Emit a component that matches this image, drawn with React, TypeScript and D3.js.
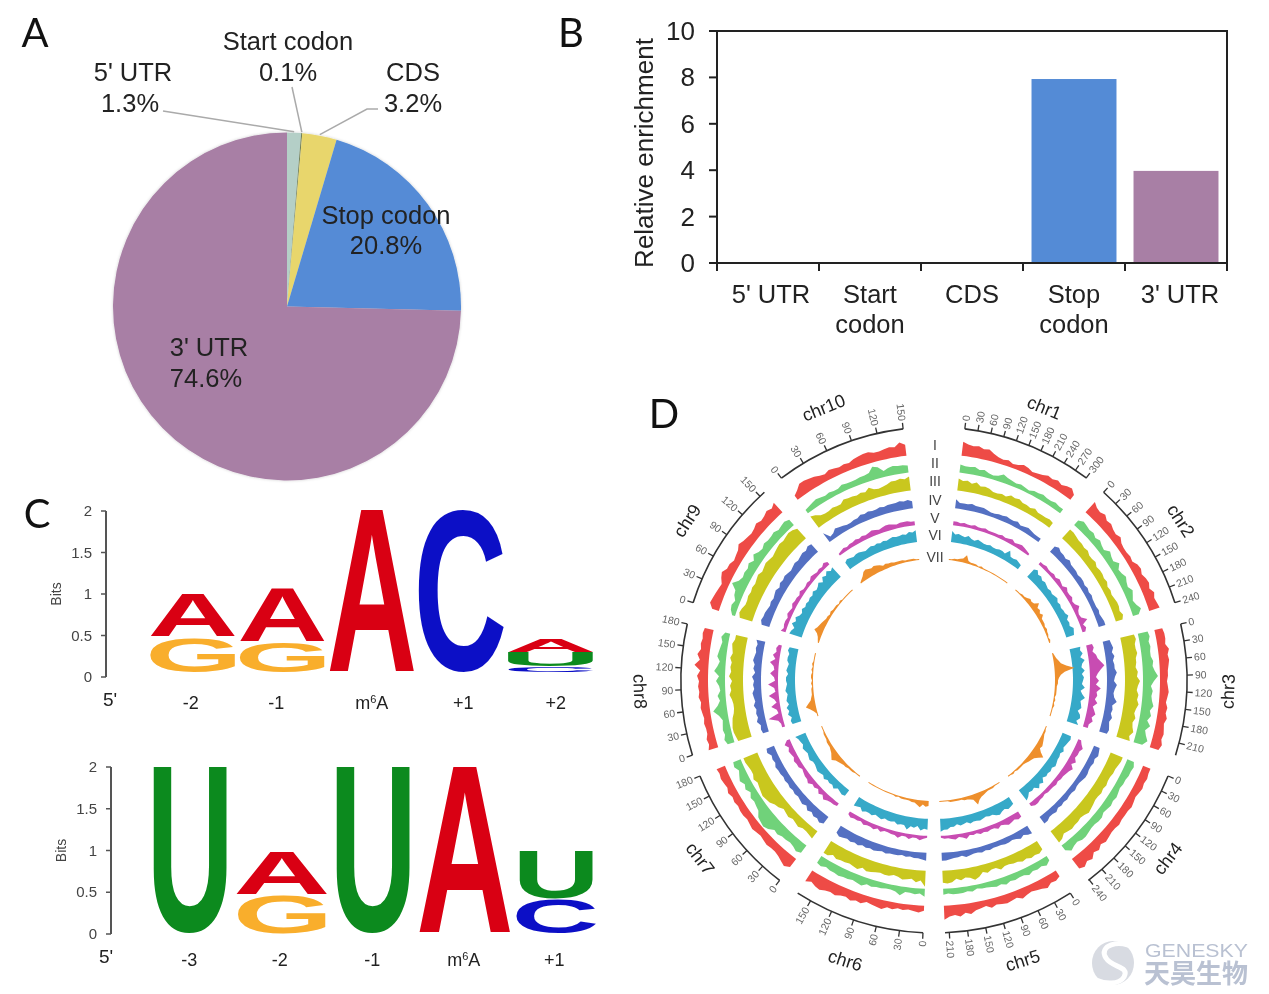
import * as d3 from 'd3'

const SANS = '"Liberation Sans", Arial, sans-serif'

// Panel A
const pieLabels = ["5' UTR", 'Start codon', 'CDS', 'Stop codon', "3' UTR"]
const pieShares = [1.3, 0.1, 3.2, 20.8, 74.6]
const pieColors = ['#b4cfc7', '#6f7f55', '#e8d66c', '#548bd6', '#a87fa5']

// Panel B
const barLabels = [["5' UTR"], ['Start', 'codon'], ['CDS'], ['Stop', 'codon'], ["3' UTR"]]
const barValues = [0.01, 0.01, 0.04, 7.93, 3.97]
const barColors = ['#b4cfc7', '#6f7f55', '#e8d66c', '#548bd6', '#a87fa5']
const barTicks = [0, 2, 4, 6, 8, 10]

// Panel C, letters listed bottom to top as [base, bits]
type Stack = [string, number][]
const logoTicks = [0, 0.5, 1, 1.5, 2]
const logoAPositions = ['-2', '-1', 'm6A', '+1', '+2']
const logoAStacks: Stack[] = [
  [['G', 0.43], ['A', 0.53]],
  [['G', 0.37], ['A', 0.65]],
  [['A', 1.97]],
  [['C', 1.97]],
  [['C', 0.07], ['U', 0.18], ['A', 0.17]],
]
const logoBPositions = ['-3', '-2', '-1', 'm6A', '+1']
const logoBStacks: Stack[] = [
  [['U', 2.0]],
  [['G', 0.47], ['A', 0.52]],
  [['U', 2.0]],
  [['A', 2.0]],
  [['C', 0.42], ['U', 0.59]],
]
const baseColors: Record<string, string> = { A: '#d90013', C: '#0c0fc6', G: '#f9ae2c', U: '#0c8a1e' }

// Panel D
const chrNames = ['chr1', 'chr2', 'chr3', 'chr4', 'chr5', 'chr6', 'chr7', 'chr8', 'chr9', 'chr10']
const chrLengths = [301, 240, 232, 242, 217, 169, 180, 180, 157, 150]
const trackNames = ['I', 'II', 'III', 'IV', 'V', 'VI', 'VII']
const trackColors = ['#ee4b46', '#70d27a', '#c9c71e', '#5470c2', '#c84cb2', '#36a9c8', '#ee8f2c']

const chr1Tracks = [
  [14, 12, 11, 12, 10, 11, 8, 6, 5, 6, 4, 5, 7, 6, 4, 5, 6, 8, 7, 9, 7, 9, 10, 6],
  [8, 7, 7, 8, 6, 7, 5, 4, 5, 8, 6, 5, 4, 5, 4, 3, 5, 5, 6, 5, 5, 6, 5, 5],
  [12, 10, 11, 9, 11, 8, 9, 8, 6, 6, 7, 6, 9, 8, 9, 7, 7, 6, 8, 6, 6, 6, 7, 6],
  [9, 6, 6, 6, 7, 6, 6, 6, 5, 4, 4, 5, 5, 6, 5, 5, 6, 4, 5, 6, 5, 4, 4, 4],
  [4, 4, 3, 4, 3, 3, 4, 3, 3, 4, 3, 3, 3, 3, 4, 3, 4, 5, 3, 4, 5, 4, 3, 2],
  [11, 8, 9, 8, 7, 9, 7, 6, 8, 7, 6, 6, 7, 6, 6, 7, 7, 6, 11, 6, 6, 7, 6, 5],
  [1, 1, 2, 2, 3, 4, 8, 3, 2, 2, 2, 1, 2, 1, 1, 1, 1, 1, 1, 1, 1, 1, 1, 1],
]
const chr2Tracks = [
  [14, 11, 10, 12, 9, 10, 8, 7, 9, 6, 5, 5, 6, 5, 8, 9, 7, 9, 10, 8, 11, 9, 10, 11],
  [6, 9, 8, 7, 8, 6, 8, 6, 5, 9, 7, 6, 10, 6, 7, 9, 7, 6, 9, 7, 5, 7, 10, 6],
  [12, 12, 11, 10, 10, 9, 10, 8, 8, 9, 7, 8, 8, 7, 8, 6, 7, 6, 7, 8, 8, 7, 9, 7],
  [7, 9, 7, 7, 6, 8, 6, 6, 6, 5, 6, 6, 5, 6, 5, 6, 5, 5, 5, 6, 5, 6, 7, 7],
  [3, 3, 4, 3, 3, 4, 3, 5, 4, 3, 6, 4, 4, 5, 3, 4, 7, 4, 3, 4, 9, 3, 5, 3],
  [10, 12, 9, 10, 8, 9, 8, 7, 8, 7, 8, 9, 7, 8, 7, 8, 8, 10, 7, 8, 7, 10, 9, 8],
  [1, 1, 1, 2, 2, 3, 5, 4, 5, 9, 5, 6, 4, 6, 3, 3, 3, 2, 3, 2, 2, 1, 2, 1],
]
const chr3Tracks = [
  [8, 9, 9, 8, 11, 9, 10, 9, 8, 8, 7, 8, 9, 8, 7, 9, 8, 10, 8, 9, 10, 9, 11, 9],
  [10, 11, 9, 10, 9, 9, 11, 10, 12, 15, 11, 8, 10, 9, 10, 12, 9, 11, 8, 12, 8, 10, 13, 9],
  [14, 15, 13, 13, 14, 12, 12, 11, 13, 12, 15, 13, 12, 14, 13, 15, 13, 12, 14, 12, 13, 15, 12, 14],
  [7, 8, 9, 7, 9, 7, 8, 8, 10, 8, 7, 10, 8, 7, 8, 11, 7, 8, 7, 9, 7, 8, 9, 8],
  [6, 7, 5, 8, 9, 12, 15, 11, 8, 6, 9, 6, 11, 7, 8, 6, 9, 5, 7, 9, 6, 8, 5, 5],
  [11, 10, 12, 9, 13, 10, 9, 12, 9, 11, 10, 9, 12, 8, 10, 13, 9, 10, 11, 8, 11, 12, 9, 12],
  [1, 2, 3, 5, 7, 12, 20, 10, 6, 4, 3, 3, 2, 2, 2, 2, 1, 2, 1, 2, 1, 1, 1, 1],
]
const chr4Tracks = [
  [8, 8, 9, 8, 9, 8, 7, 8, 9, 8, 8, 8, 9, 8, 8, 9, 10, 8, 11, 9, 13, 11, 14, 12],
  [7, 9, 8, 8, 7, 7, 6, 7, 8, 7, 8, 7, 6, 8, 8, 7, 7, 8, 9, 9, 7, 8, 10, 6],
  [13, 13, 12, 11, 11, 10, 10, 11, 10, 11, 10, 10, 11, 12, 13, 11, 10, 11, 11, 12, 11, 10, 13, 14],
  [6, 7, 8, 6, 7, 6, 6, 7, 7, 6, 5, 5, 6, 5, 5, 6, 5, 6, 5, 7, 6, 6, 8, 8],
  [3, 5, 8, 6, 6, 5, 8, 5, 9, 7, 6, 5, 5, 4, 5, 4, 4, 4, 3, 4, 4, 5, 5, 3],
  [9, 10, 9, 8, 7, 9, 7, 8, 8, 9, 10, 8, 9, 8, 9, 7, 11, 9, 12, 8, 9, 8, 11, 13],
  [1, 1, 2, 2, 3, 4, 5, 6, 5, 8, 13, 9, 6, 5, 4, 3, 2, 2, 2, 2, 1, 2, 1, 1],
]
const chr5Tracks = [
  [7, 9, 8, 11, 9, 8, 7, 8, 10, 7, 8, 9, 8, 7, 9, 6, 7, 8, 11, 9, 12, 10, 11, 14],
  [5, 8, 6, 7, 6, 8, 6, 6, 7, 6, 8, 6, 7, 6, 5, 5, 4, 6, 5, 6, 6, 6, 5, 6],
  [10, 12, 11, 12, 10, 11, 9, 9, 8, 8, 10, 7, 7, 9, 7, 11, 13, 10, 9, 11, 9, 12, 13, 12],
  [9, 8, 6, 8, 6, 5, 6, 6, 5, 5, 5, 6, 5, 6, 5, 5, 6, 7, 5, 6, 6, 7, 8, 8],
  [6, 7, 5, 6, 7, 5, 4, 6, 4, 4, 5, 4, 5, 3, 4, 3, 6, 4, 3, 5, 4, 3, 3, 2],
  [8, 9, 10, 8, 9, 11, 10, 8, 8, 7, 8, 9, 8, 8, 9, 7, 8, 9, 7, 9, 9, 11, 11, 13],
  [1, 1, 1, 2, 2, 2, 3, 4, 5, 7, 11, 5, 4, 3, 3, 2, 2, 2, 2, 2, 1, 1, 1, 1],
]
const chr6Tracks = [
  [5, 7, 6, 5, 6, 5, 7, 6, 9, 8, 7, 6, 9, 8, 10, 8, 9, 11, 10, 11, 13, 12, 10, 13],
  [8, 5, 6, 5, 5, 9, 6, 5, 5, 6, 6, 7, 6, 9, 8, 7, 8, 8, 9, 8, 8, 7, 9, 8],
  [16, 10, 12, 9, 10, 11, 9, 8, 10, 10, 9, 10, 11, 12, 10, 13, 12, 11, 12, 12, 13, 11, 14, 14],
  [8, 7, 6, 6, 5, 6, 5, 6, 6, 6, 7, 6, 7, 8, 7, 8, 7, 9, 8, 9, 8, 9, 10, 8],
  [2, 3, 5, 3, 3, 5, 3, 3, 6, 4, 4, 3, 3, 5, 3, 5, 4, 4, 5, 3, 4, 4, 5, 3],
  [11, 10, 12, 8, 10, 9, 13, 9, 9, 10, 8, 9, 9, 8, 10, 9, 8, 10, 9, 9, 11, 8, 9, 10],
  [5, 6, 4, 7, 5, 3, 3, 2, 2, 2, 2, 1, 2, 1, 1, 1, 1, 1, 1, 1, 1, 1, 1, 1],
]
const chr7Tracks = [
  [10, 13, 11, 9, 8, 8, 9, 8, 7, 8, 9, 8, 7, 8, 8, 7, 8, 7, 9, 7, 8, 9, 8, 9],
  [9, 11, 9, 8, 9, 9, 11, 10, 14, 16, 15, 14, 10, 9, 8, 9, 6, 9, 7, 10, 8, 6, 9, 8],
  [9, 8, 7, 7, 9, 8, 7, 9, 8, 7, 10, 11, 14, 15, 16, 15, 14, 13, 15, 13, 13, 14, 15, 15],
  [8, 10, 8, 9, 7, 9, 6, 8, 7, 6, 7, 6, 7, 6, 7, 6, 7, 7, 8, 6, 7, 6, 9, 8],
  [3, 4, 4, 5, 7, 4, 6, 3, 5, 4, 7, 5, 5, 4, 3, 5, 5, 6, 4, 5, 6, 4, 7, 3],
  [7, 8, 7, 6, 9, 7, 8, 7, 9, 7, 8, 9, 8, 7, 7, 9, 8, 7, 8, 9, 7, 8, 9, 11],
  [1, 1, 1, 2, 2, 2, 3, 3, 4, 5, 6, 9, 7, 5, 4, 3, 3, 3, 2, 2, 2, 1, 1, 1],
]
const chr8Tracks = [
  [10, 8, 9, 7, 7, 8, 7, 8, 9, 8, 10, 9, 10, 9, 11, 8, 14, 9, 12, 9, 10, 9, 10, 9],
  [7, 9, 7, 8, 7, 6, 9, 14, 9, 6, 8, 5, 6, 9, 6, 11, 8, 6, 9, 8, 7, 6, 8, 5],
  [14, 15, 16, 16, 15, 14, 12, 11, 11, 12, 14, 12, 13, 11, 14, 12, 13, 12, 14, 12, 13, 14, 12, 12],
  [6, 7, 6, 9, 7, 8, 7, 9, 7, 8, 9, 7, 8, 7, 9, 6, 8, 7, 9, 8, 7, 8, 7, 9],
  [3, 3, 5, 14, 3, 4, 9, 3, 5, 10, 3, 4, 10, 3, 4, 8, 4, 5, 9, 4, 7, 4, 5, 3],
  [9, 10, 8, 11, 9, 11, 8, 10, 9, 8, 10, 9, 8, 9, 9, 7, 9, 8, 7, 9, 9, 8, 10, 9],
  [1, 1, 3, 6, 10, 7, 4, 3, 2, 2, 2, 1, 2, 1, 2, 2, 1, 2, 1, 2, 1, 1, 1, 1],
]
const chr9Tracks = [
  [7, 11, 10, 9, 8, 7, 10, 12, 9, 9, 7, 8, 9, 12, 10, 9, 8, 9, 11, 9, 10, 12, 10, 13],
  [3, 6, 7, 5, 8, 9, 15, 10, 8, 9, 8, 10, 7, 11, 8, 7, 9, 8, 8, 9, 7, 8, 9, 7],
  [13, 15, 14, 12, 12, 13, 12, 13, 12, 13, 14, 12, 13, 14, 13, 12, 13, 14, 15, 14, 15, 16, 15, 13],
  [8, 10, 9, 9, 8, 7, 8, 7, 8, 9, 7, 9, 8, 9, 8, 7, 8, 9, 8, 9, 10, 9, 11, 10],
  [5, 3, 4, 4, 3, 5, 4, 3, 5, 4, 4, 3, 5, 3, 3, 4, 3, 5, 4, 3, 4, 3, 5, 3],
  [13, 12, 10, 14, 11, 13, 10, 9, 11, 9, 10, 9, 10, 9, 11, 9, 10, 12, 9, 13, 11, 14, 11, 13],
  [1, 2, 3, 5, 9, 7, 6, 5, 4, 3, 3, 2, 3, 2, 2, 2, 1, 2, 1, 1, 1, 1, 1, 1],
]
const chr10Tracks = [
  [5, 8, 12, 12, 11, 10, 8, 7, 9, 8, 7, 8, 7, 9, 10, 11, 11, 9, 9, 10, 11, 10, 14, 11],
  [4, 5, 6, 7, 6, 5, 6, 5, 5, 7, 6, 6, 6, 7, 7, 8, 13, 11, 6, 8, 9, 8, 8, 7],
  [14, 12, 9, 8, 8, 9, 8, 8, 11, 10, 10, 9, 10, 9, 12, 9, 8, 9, 10, 12, 12, 13, 12, 14],
  [11, 4, 5, 8, 7, 6, 5, 5, 6, 6, 8, 7, 8, 7, 7, 8, 7, 8, 8, 8, 9, 8, 9, 7],
  [2, 3, 4, 3, 4, 4, 5, 4, 5, 4, 5, 6, 5, 4, 5, 6, 6, 5, 4, 5, 5, 5, 4, 4],
  [8, 10, 9, 8, 9, 9, 8, 7, 8, 9, 8, 9, 8, 9, 8, 9, 10, 9, 9, 10, 9, 11, 10, 12],
  [1, 3, 5, 8, 9, 8, 7, 8, 7, 6, 4, 5, 4, 4, 3, 3, 3, 3, 2, 2, 2, 2, 1, 1],
]
const chrTracks = [
  chr1Tracks, chr2Tracks, chr3Tracks, chr4Tracks, chr5Tracks,
  chr6Tracks, chr7Tracks, chr8Tracks, chr9Tracks, chr10Tracks,
]

const rad = (deg: number) => (deg * Math.PI) / 180

function PanelLetter({ x, y, children }: { x: number; y: number; children: string }) {
  return (
    <text x={x} y={y} fontFamily="Lato, sans-serif" fontSize={40} fill="#111" textAnchor="middle">
      {children}
    </text>
  )
}

function Lines({ x, y, lines, size, step, anchor = 'middle', fill = '#222' }: any) {
  return (
    <text x={x} y={y} fontSize={size} fontFamily={SANS} fill={fill} textAnchor={anchor}>
      {lines.map((l: string, i: number) => (
        <tspan key={i} x={x} dy={i === 0 ? 0 : step}>{l}</tspan>
      ))}
    </text>
  )
}

function PiePanel() {
  const arcs = d3.pie<number>().sort(null)(pieShares)
  const arc = d3.arc<d3.PieArcDatum<number>>().innerRadius(0).outerRadius(174)
  const cx = 287
  const cy = 306.5
  // where a leader line touches the rim of its slice
  const rim = (i: number) => {
    const mid = (arcs[i].startAngle + arcs[i].endAngle) / 2
    return [cx + 175 * Math.sin(mid), cy - 175 * Math.cos(mid)]
  }
  const leader = d3.line()
  return (
    <g>
      <defs>
        <filter id="pieShadow" x="-5%" y="-5%" width="110%" height="110%">
          <feDropShadow dx={0} dy={0} stdDeviation={1.5} floodColor="#000" floodOpacity={0.2} />
        </filter>
      </defs>
      <g transform={`translate(${cx},${cy})`} filter="url(#pieShadow)">
        {arcs.map((a, i) => (
          <path key={pieLabels[i]} d={arc(a) || ''} fill={pieColors[i]} />
        ))}
      </g>
      <g fill="none" stroke="#aaa" strokeWidth={1.5}>
        <path d={leader([[163, 111], rim(0) as [number, number]]) || ''} />
        <path d={leader([[292, 87], rim(1) as [number, number]]) || ''} />
        <path d={leader([[378, 109], [367, 109], rim(2) as [number, number]]) || ''} />
      </g>
      <Lines x={133} y={81} lines={["5' UTR"]} size={25.5} step={31} />
      <Lines x={130} y={112} lines={[`${pieShares[0]}%`]} size={25.5} step={31} />
      <Lines x={288} y={50} lines={[pieLabels[1], `${pieShares[1]}%`]} size={25.5} step={31} />
      <Lines x={413} y={81} lines={[pieLabels[2], `${pieShares[2]}%`]} size={25.5} step={31} />
      <Lines x={386} y={224} lines={[pieLabels[3], `${pieShares[3]}%`]} size={25.5} step={30} />
      <Lines x={209} y={356} lines={[pieLabels[4]]} size={25.5} step={30} />
      <Lines x={206} y={387} lines={[`${pieShares[4]}%`]} size={25.5} step={30} />
    </g>
  )
}

function BarPanel() {
  const names = pieLabels
  const x = d3.scaleBand().domain(names).range([717, 1227]).paddingInner(0.167).paddingOuter(0.0835)
  const y = d3.scaleLinear().domain([0, 10]).range([263, 31])
  const edges = d3.range(names.length + 1).map((i) => 717 + (i * (1227 - 717)) / names.length)
  const labelNudges = [3, 0, 0, 0, 4]
  return (
    <g>
      {names.map((n, i) => (
        <rect key={n} x={x(n)} y={y(barValues[i])} width={x.bandwidth()} height={y(0) - y(barValues[i])} fill={barColors[i]} />
      ))}
      <path d={`M717,31H1227V263H717Z`} fill="none" stroke="#222" strokeWidth={2} />
      {barTicks.map((t) => (
        <g key={t}>
          <line x1={709} x2={717} y1={y(t)} y2={y(t)} stroke="#222" strokeWidth={2} />
          <text x={695} y={y(t) + 9} textAnchor="end" fontSize={26} fontFamily={SANS} fill="#222">{t}</text>
        </g>
      ))}
      {edges.map((e) => (
        <line key={e} x1={e} x2={e} y1={263} y2={271} stroke="#222" strokeWidth={2} />
      ))}
      {names.map((n, i) => (
        <Lines key={n} x={(x(n) as number) + x.bandwidth() / 2 + labelNudges[i]} y={303} lines={barLabels[i]} size={25.5} step={30} />
      ))}
      <text transform="translate(653,153) rotate(-90)" textAnchor="middle" fontSize={26} fontFamily={SANS} fill="#222">
        Relative enrichment
      </text>
    </g>
  )
}

const measureCtx = document.createElement('canvas').getContext('2d') as CanvasRenderingContext2D
measureCtx.font = `bold 200px ${SANS}`

// letter stretched so its ink exactly fills the given box
function Glyph({ base, left, width, top, bottom }: any) {
  const m = measureCtx.measureText(base)
  const inkW = m.actualBoundingBoxLeft + m.actualBoundingBoxRight
  const inkH = m.actualBoundingBoxAscent + m.actualBoundingBoxDescent
  const sx = width / inkW
  const sy = (bottom - top) / inkH
  const tx = left + m.actualBoundingBoxLeft * sx
  const ty = bottom - m.actualBoundingBoxDescent * sy
  return (
    <text
      transform={`translate(${tx},${ty}) scale(${sx},${sy})`}
      fontFamily={SANS}
      fontWeight="bold"
      fontSize={200}
      fill={baseColors[base]}
    >
      {base}
    </text>
  )
}

function Logo({ positions, stacks, axisX, y2, y0, range, floor, inkFill, nudges, fivePrimeX, labelY }: any) {
  const axisY = d3.scaleLinear().domain([0, 2]).range([y0, y2])
  const column = d3.scaleBand<string>().domain(positions).range(range)
  return (
    <g>
      <path d={`M${axisX},${y2}V${y0}`} stroke="#555" strokeWidth={2} fill="none" />
      {logoTicks.map((t) => (
        <g key={t}>
          <line x1={axisX - 5} x2={axisX} y1={axisY(t)} y2={axisY(t)} stroke="#555" strokeWidth={1.5} />
          <text x={axisX - 14} y={axisY(t) + 5} textAnchor="end" fontSize={15} fontFamily={SANS} fill="#444">{t}</text>
        </g>
      ))}
      <text
        transform={`translate(${axisX - 45},${axisY(1)}) rotate(-90)`}
        textAnchor="middle"
        fontSize={14}
        fontFamily={SANS}
        fill="#444"
      >
        Bits
      </text>
      {positions.map((p: string, i: number) => {
        let level = floor
        const band = column.bandwidth()
        return (
          <g key={p}>
            {stacks[i].map(([base, bits]: [string, number]) => {
              const from = level
              level += bits
              const width = band * (inkFill[base] ?? 1)
              return (
                <Glyph
                  key={base}
                  base={base}
                  left={(column(p) as number) + (band - width) / 2}
                  width={width}
                  top={axisY(level) + 0.5}
                  bottom={axisY(from) - 0.5}
                />
              )
            })}
            <text
              x={(column(p) as number) + band / 2 + nudges[i]}
              y={labelY}
              textAnchor="middle"
              fontSize={18}
              fontFamily={SANS}
              fill="#222"
            >
              {p === 'm6A' ? (
                <>
                  m<tspan dy={-6} fontSize={11}>6</tspan><tspan dy={6}>A</tspan>
                </>
              ) : p}
            </text>
          </g>
        )
      })}
      <text x={fivePrimeX} y={labelY - 3} textAnchor="middle" fontSize={19} fontFamily={SANS} fill="#222">5'</text>
    </g>
  )
}

function Circos() {
  const cx = 934
  const cy = 680
  const axisR = 253
  const labelR = 294
  const trackBases = [226, 209, 191, 173, 156, 139, 121]
  const numeralY = [-230, -212, -194, -175, -157, -140, -118]
  const sectorStart = (i: number) => 7 + 35.1 * i
  const sectorSpan = 30.1

  return (
    <g transform={`translate(${cx},${cy})`}>
      {chrNames.map((name, c) => {
        const a0 = sectorStart(c)
        const a1 = a0 + sectorSpan
        const mid = (a0 + a1) / 2
        const position = d3.scaleLinear().domain([0, chrLengths[c]]).range([a0, a1])
        const axisArc = d3.arc()({ innerRadius: axisR - 0.8, outerRadius: axisR + 0.8, startAngle: rad(a0), endAngle: rad(a1) })
        const tilt = mid > 90 && mid < 270 ? mid + 180 : mid > 270 ? mid - 360 : mid
        return (
          <g key={name}>
            <path d={axisArc || ''} fill="#333" />
            {d3.range(0, chrLengths[c] + 1, 30).map((t) => {
              const a = position(t)
              const flip = a > 180
              return (
                <g key={t} transform={`rotate(${a})`}>
                  <line x1={0} x2={0} y1={-axisR} y2={-axisR - 6} stroke="#333" strokeWidth={1.3} />
                  <text
                    transform={`translate(0,${-axisR - 8}) rotate(${flip ? 90 : -90})`}
                    dy="0.35em"
                    textAnchor={flip ? 'end' : 'start'}
                    fontSize={10.5}
                    fontFamily={SANS}
                    fill="#666"
                  >
                    {t}
                  </text>
                </g>
              )
            })}
            <text
              transform={`rotate(${mid}) translate(0,${-labelR}) rotate(${tilt - mid})`}
              dy="0.35em"
              textAnchor="middle"
              fontSize={18}
              fontFamily={SANS}
              fill="#222"
            >
              {name}
            </text>
            {chrTracks[c].map((values, t) => {
              const along = d3.scaleLinear().domain([0, values.length - 1]).range([rad(a0), rad(a1)])
              const height = d3.scaleLinear().domain([0, 20]).range([trackBases[t], trackBases[t] + 20])
              const area = d3
                .areaRadial<number>()
                .angle((_, i) => along(i))
                .innerRadius(trackBases[t])
                .outerRadius((d) => height(d))
              return <path key={t} d={area(values) || ''} fill={trackColors[t]} />
            })}
          </g>
        )
      })}
      {trackNames.map((n, t) => (
        <text key={n} x={1} y={numeralY[t]} textAnchor="middle" fontSize={14} fontFamily={SANS} fill="#444">
          {n}
        </text>
      ))}
    </g>
  )
}

function Watermark() {
  return (
    <g>
      <ellipse cx={1113} cy={963} rx={21} ry={22} fill="#d8dbe2" />
      <path d="M1136,949C1118,938 1098,946 1106,958C1112,968 1130,966 1124,977C1119,985 1105,984 1096,980" fill="none" stroke="#fff" strokeWidth={5} />
      <text x={1145} y={957} fontFamily={SANS} fontSize={18} textLength={103} lengthAdjust="spacingAndGlyphs" fill="#b9c1d2">GENESKY</text>
      <text x={1144} y={983} fontFamily='"Noto Sans CJK SC"' fontWeight="bold" fontSize={26} fill="#b9c1d2">天昊生物</text>
    </g>
  )
}

export default function App() {
  return (
    <svg width={1269} height={994} style={{ position: 'absolute', left: 0, top: 0, display: 'block', filter: 'blur(0.45px)' }}>
      <rect width={1269} height={994} fill="#fff" />
      <PanelLetter x={35} y={47}>A</PanelLetter>
      <PanelLetter x={571} y={47}>B</PanelLetter>
      <PanelLetter x={37} y={528}>C</PanelLetter>
      <PanelLetter x={664} y={428}>D</PanelLetter>
      <PiePanel />
      <BarPanel />
      <Logo
        positions={logoAPositions}
        stacks={logoAStacks}
        axisX={106}
        y2={511}
        y0={677}
        range={[148, 595.5]}
        floor={0.05}
        inkFill={{ A: 0.95, C: 0.95, G: 0.95, U: 0.95 }}
        nudges={[-2, -6, 0, 2, 5]}
        fivePrimeX={110}
        labelY={709}
      />
      <Logo
        positions={logoBPositions}
        stacks={logoBStacks}
        axisX={111}
        y2={767}
        y0={934}
        range={[144.5, 602]}
        floor={0}
        inkFill={{ A: 1, C: 0.87, G: 0.96, U: 0.8 }}
        nudges={[-1, -2, -1, -1, -2]}
        fivePrimeX={106}
        labelY={966}
      />
      <Circos />
      <Watermark />
    </svg>
  )
}
